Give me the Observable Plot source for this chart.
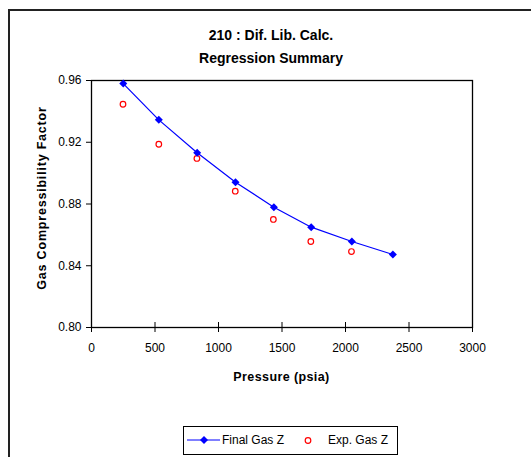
<!DOCTYPE html>
<html>
<head>
<meta charset="utf-8">
<script src="https://cdn.jsdelivr.net/npm/d3@7"></script>
<script src="https://cdn.jsdelivr.net/npm/@observablehq/plot@0.6"></script>
<style>
  html, body { margin: 0; padding: 0; background: #fff; }
  #wrap { position: relative; width: 531px; height: 457px; overflow: hidden; font-family: "Liberation Sans", Arial, sans-serif; color: #000; }
  #frame { position: absolute; left: 8px; top: 9px; width: 600px; height: 600px; border-left: 2px solid #222; border-top: 2px solid #222; box-sizing: border-box; }
  #plot { position: absolute; left: 0; top: 0; }
  .title { position: absolute; left: 0; width: 542px; text-align: center; font-weight: bold; font-size: 14px; }
  #xlabel { position: absolute; left: 91px; width: 381px; top: 370px; text-align: center; font-weight: bold; font-size: 12.5px; letter-spacing: 0.4px; }
  #ylabel { position: absolute; left: 42px; top: 198px; transform: translate(-50%, -50%) rotate(-90deg); white-space: nowrap; font-weight: bold; font-size: 12.5px; letter-spacing: 0.8px; }
  #legend { position: absolute; left: 183px; top: 426px; width: 215px; height: 29px; border: 1px solid #000; box-sizing: border-box; font-size: 12px; }
  #legend svg { position: absolute; top: 0; left: 0; }
  #legend span { position: absolute; top: 6px; }
</style>
</head>
<body>
<div id="wrap">
  <div id="frame"></div>
  <div id="plot"></div>
  <div class="title" style="top: 27px;">210 : Dif. Lib. Calc.</div>
  <div class="title" style="top: 50px;">Regression Summary</div>
  <div id="xlabel">Pressure (psia)</div>
  <div id="ylabel">Gas Compressibility Factor</div>
  <div id="legend">
    <svg width="215" height="29">
      <line x1="3" y1="13" x2="36" y2="13" stroke="#0000ff" stroke-width="1"></line>
      <path d="M20,9 L24,13 L20,17 L16,13 Z" fill="#0000ff"></path>
      <circle cx="124" cy="13.5" r="2.8" fill="none" stroke="#ff0000" stroke-width="1.2"></circle>
    </svg>
    <span style="left: 38px;">Final Gas Z</span>
    <span style="left: 144px;">Exp. Gas Z</span>
  </div>
</div>
<script>
// Data
const pressure = [250, 530, 832, 1134, 1436, 1730, 2050, 2373];
const finalGasZ = [0.958, 0.9345, 0.9132, 0.8941, 0.8779, 0.8650, 0.8557, 0.8473];
const expPressure = [248, 530, 830, 1132, 1432, 1727, 2047];
const expGasZ = [0.9446, 0.9187, 0.9095, 0.8883, 0.8700, 0.8557, 0.8492];
const xTicks = [0, 500, 1000, 1500, 2000, 2500, 3000];
const yTicks = [0.80, 0.84, 0.88, 0.92, 0.96];

const finalData = pressure.map((p, i) => ({p, z: finalGasZ[i]}));
const expData = expPressure.map((p, i) => ({p, z: expGasZ[i]}));

const chart = Plot.plot({
  width: 531,
  height: 457,
  marginLeft: 91,
  marginRight: 59,
  marginTop: 80,
  marginBottom: 130,
  style: { fontFamily: "'Liberation Sans', Arial, sans-serif", fontSize: "12px", color: "#000", background: "transparent" },
  x: { domain: [0, 3000], label: null },
  y: { domain: [0.80, 0.96], label: null },
  marks: [
    Plot.axisX({ ticks: xTicks, tickFormat: d3.format("d"), tickSize: 5, tickPadding: 11, label: null, stroke: "#000" }),
    Plot.tickX(xTicks, { x: d => d, insetTop: 242, stroke: "#000" }),
    Plot.axisY({ ticks: yTicks, tickFormat: d3.format(".2f"), tickSize: 5, tickPadding: 5, label: null, stroke: "#000" }),
    Plot.frame({ stroke: "#000", strokeWidth: 1.3 }),
    Plot.dot(expData, { x: "p", y: "z", r: 2.8, stroke: "#ff0000", strokeWidth: 1.2, fill: "none" }),
    Plot.line(finalData, { x: "p", y: "z", stroke: "#0000ff", strokeWidth: 1.2 }),
    Plot.dot(finalData, { x: "p", y: "z", symbol: "diamond2", r: 3.6, fill: "#0000ff", stroke: "none" })
  ]
});
document.getElementById("plot").appendChild(chart);
</script>
</body>
</html>
